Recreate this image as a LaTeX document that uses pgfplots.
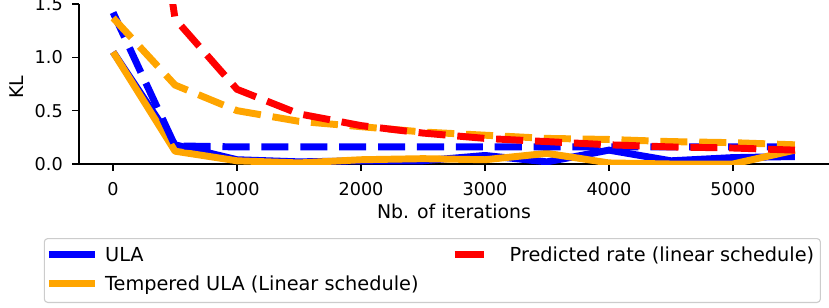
\documentclass[border=0pt]{standalone}
\usepackage{fontspec}
\setmainfont{DejaVu Sans}
\usepackage{pgfplots}
\pgfplotsset{compat=1.18}
\definecolor{mplorange}{RGB}{255,165,0}
\definecolor{legframe}{RGB}{204,204,204}
\newcommand{\tickfont}{\fontsize{12.7bp}{15bp}\selectfont}
\newcommand{\labfont}{\fontsize{13.6bp}{16bp}\selectfont}
\newcommand{\legfont}{\fontsize{13.9bp}{16bp}\selectfont}

\begin{document}
\begin{tikzpicture}
\begin{axis}[
 scale only axis, width=540bp, height=115.2bp,
 xmin=-275, xmax=5775, ymin=0, ymax=1.5,
 axis x line*=bottom, axis y line*=left,
 axis line style={line width=1.1bp, -},
 xtick={0,1000,...,5000}, ytick={0,0.5,1,1.5},
 tick align=outside, major tick length=5bp,
 tick style={line width=1.1bp, black},
 tick label style={font=\tickfont},
 xticklabel style={inner ysep=0pt, /pgf/number format/1000 sep={}},
 yticklabel style={inner xsep=0pt, /pgf/number format/.cd, fixed, fixed zerofill, precision=1},
 xticklabel shift=8bp, yticklabel shift=6.5bp,
 /pgf/number format/assume math mode=true,
 xlabel={Nb. of iterations}, ylabel={KL},
 every axis x label/.style={at={(axis description cs:0.5,0)}, anchor=center, yshift=-34.5bp, font=\labfont},
 every axis y label/.style={at={(axis description cs:-0.0833,0.478)}, anchor=center, rotate=90, font=\labfont},
 legend columns=2,
 legend style={at={(axis description cs:-0.047,-0.4625)}, anchor=north west,
   draw=legframe, line width=0.8bp, rounded corners=2.5bp,
   inner xsep=0.7bp, inner ysep=2.1bp, row sep=0pt, column sep=0pt,
   cells={anchor=base west}, font=\legfont,
   nodes={inner sep=0pt, text height=9.4bp, text depth=11.5bp}},
 legend image code/.code={\draw[#1] (0bp,0bp) -- (33.1bp,0bp);},
]
\addplot[blue, line width=5bp, line join=round, forget plot] coordinates {
(0,1.05) (500,0.18) (1000,0.04) (1500,0.02) (2000,0.03) (2500,0.03) (3000,0.08) (3500,0.02) (4000,0.13) (4500,0.03) (5000,0.06) (5500,0.07)};
\addplot[mplorange, line width=5bp, line join=round, forget plot] coordinates {
(0,1.05) (500,0.12) (1000,0.03) (1500,0.01) (2000,0.04) (2500,0.05) (3000,0.04) (3500,0.10) (4000,0.01) (4500,0.0) (5000,0.0) (5500,0.13)};
\addplot[blue, line width=5bp, dash pattern=on 19.5bp off 8.5bp, forget plot] coordinates {
(0,1.42) (500,0.17) (1000,0.16) (1500,0.16) (2000,0.16) (2500,0.16) (3000,0.16) (3500,0.16) (4000,0.16) (4500,0.16) (5000,0.16) (5500,0.16)};
\addplot[mplorange, line width=5bp, dash pattern=on 19.5bp off 8.5bp, forget plot] coordinates {
(0,1.37) (500,0.74) (1000,0.50) (1500,0.40) (2000,0.35) (2500,0.30) (3000,0.27) (3500,0.24) (4000,0.23) (4500,0.21) (5000,0.20) (5500,0.18)};
\addplot[red, line width=5bp, dash pattern=on 19.5bp off 8.5bp, forget plot] coordinates {
(0,5.24) (500,1.36) (1000,0.70) (1500,0.47) (2000,0.36) (2500,0.29) (3000,0.24) (3500,0.21) (4000,0.18) (4500,0.16) (5000,0.15) (5500,0.13)};

\addlegendimage{blue, line width=5bp}
\addlegendentry{\hspace{5bp}\makebox[249.2bp][l]{\raisebox{-5.1bp}{ULA}}}
\addlegendimage{legend image code/.code={\path[draw=none] (0bp,0bp) -- (33.1bp,0bp); \draw[red, line width=5bp] (0bp,0bp) -- (20.9bp,0bp);}}
\addlegendentry{\hspace{6.5bp}\makebox[223bp][l]{\raisebox{-5.1bp}{Predicted rate (linear schedule)}}}
\addlegendimage{mplorange, line width=5bp}
\addlegendentry{\hspace{5bp}\raisebox{-5.1bp}{Tempered ULA (Linear schedule)}}
\end{axis}
\pgfresetboundingbox
\path (-56.88bp,-103.68bp) rectangle (540bp,118.08bp);
\end{tikzpicture}
\end{document}
